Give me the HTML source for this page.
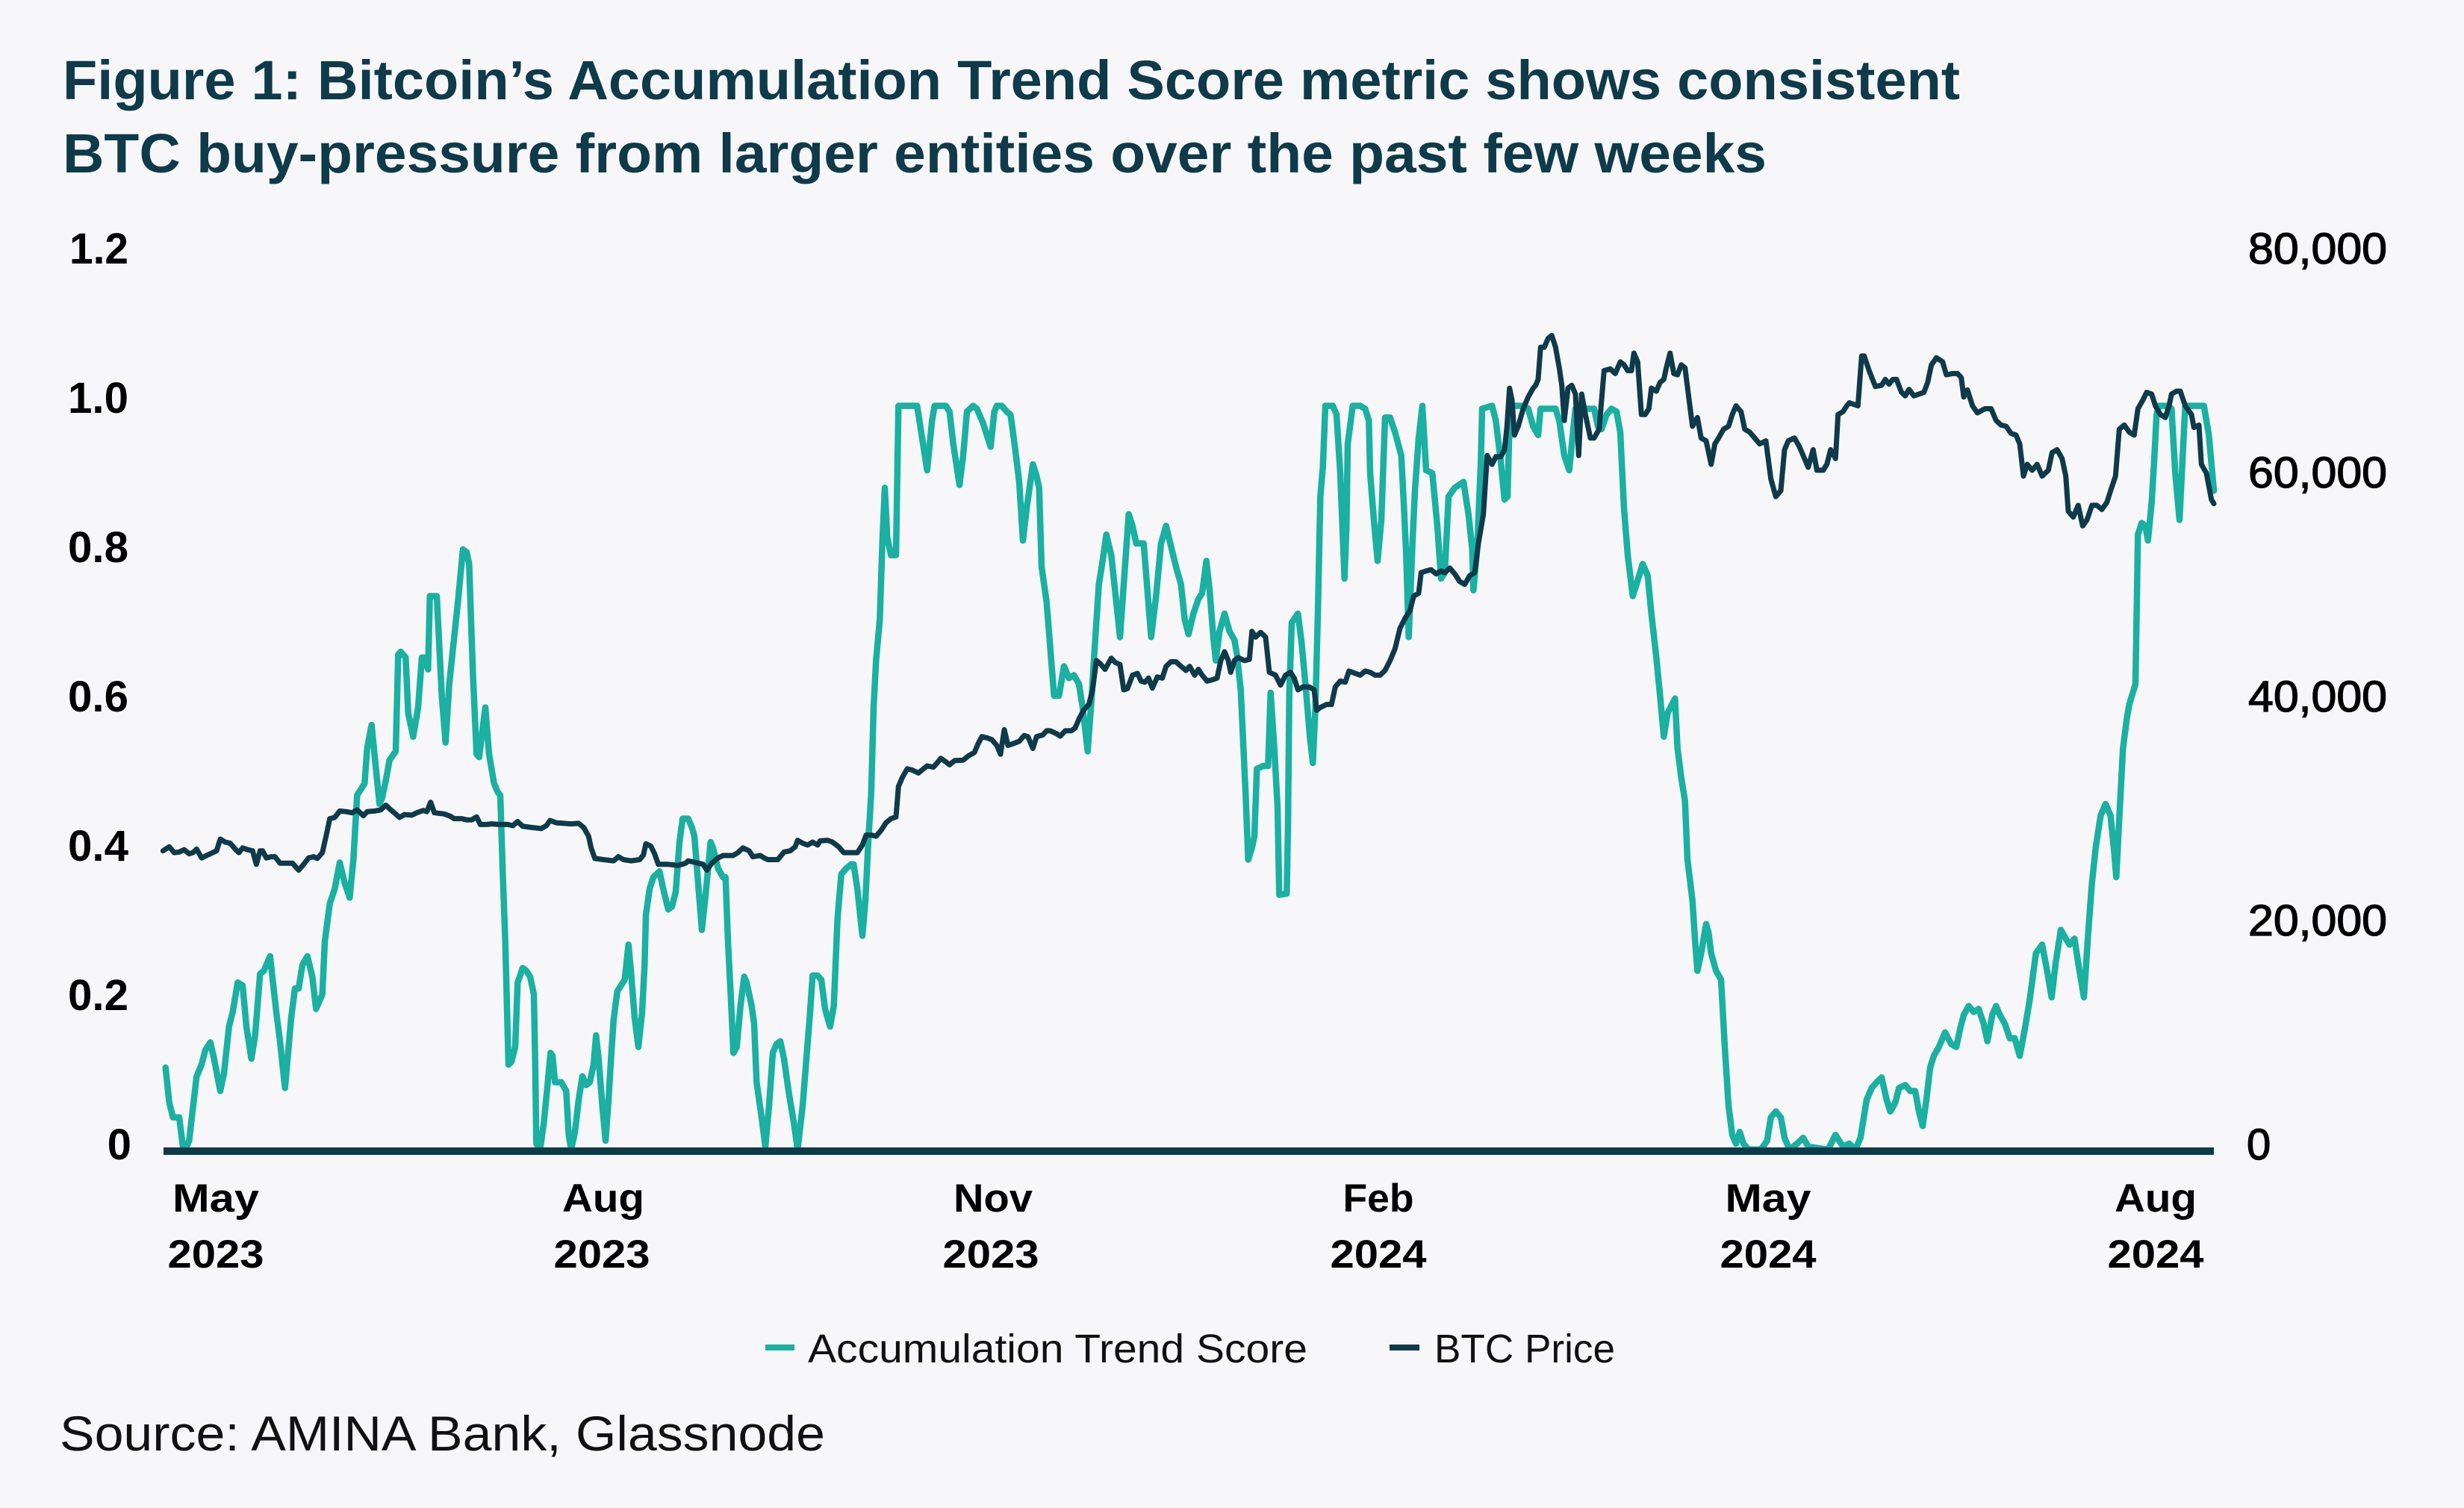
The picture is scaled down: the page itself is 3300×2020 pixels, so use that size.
<!DOCTYPE html>
<html><head><meta charset="utf-8"><style>
html,body{margin:0;padding:0;background:#f7f7f9;}
svg{display:block;}
</style></head><body>
<svg xmlns="http://www.w3.org/2000/svg" width="3300" height="2020" viewBox="0 0 3300 2020">
<rect x="0" y="0" width="3300" height="2020" fill="#f7f7f9"/>
<g font-family="'Liberation Sans', Arial, sans-serif">
<text x="84" y="133" font-size="74" font-weight="bold" fill="#0e3a4a" textLength="2541" lengthAdjust="spacingAndGlyphs">Figure 1: Bitcoin’s Accumulation Trend Score metric shows consistent</text>
<text x="84" y="231" font-size="74" font-weight="bold" fill="#0e3a4a" textLength="2282" lengthAdjust="spacingAndGlyphs">BTC buy-pressure from larger entities over the past few weeks</text>

<g font-size="58" font-weight="bold" fill="#000" text-anchor="end">
<text x="172" y="353" textLength="79" lengthAdjust="spacingAndGlyphs">1.2</text>
<text x="172" y="553" textLength="81" lengthAdjust="spacingAndGlyphs">1.0</text>
<text x="172" y="753" textLength="81" lengthAdjust="spacingAndGlyphs">0.8</text>
<text x="172" y="953" textLength="81" lengthAdjust="spacingAndGlyphs">0.6</text>
<text x="172" y="1153" textLength="81" lengthAdjust="spacingAndGlyphs">0.4</text>
<text x="172" y="1353" textLength="81" lengthAdjust="spacingAndGlyphs">0.2</text>
<text x="176" y="1553">0</text>
</g>
<g font-size="58" fill="#000" stroke="#000" stroke-width="1.3">
<text x="3011" y="353" textLength="186" lengthAdjust="spacingAndGlyphs">80,000</text>
<text x="3011" y="653" textLength="186" lengthAdjust="spacingAndGlyphs">60,000</text>
<text x="3011" y="953" textLength="186" lengthAdjust="spacingAndGlyphs">40,000</text>
<text x="3011" y="1253" textLength="186" lengthAdjust="spacingAndGlyphs">20,000</text>
<text x="3009" y="1553">0</text>
</g>
<g font-size="53" font-weight="bold" fill="#000" text-anchor="middle">
<text x="289" y="1623" textLength="116" lengthAdjust="spacingAndGlyphs">May</text>
<text x="808" y="1623" textLength="110" lengthAdjust="spacingAndGlyphs">Aug</text>
<text x="1330" y="1623" textLength="106" lengthAdjust="spacingAndGlyphs">Nov</text>
<text x="1846" y="1623" textLength="95" lengthAdjust="spacingAndGlyphs">Feb</text>
<text x="2368" y="1623" textLength="115" lengthAdjust="spacingAndGlyphs">May</text>
<text x="2887" y="1623" textLength="110" lengthAdjust="spacingAndGlyphs">Aug</text>
<text x="289" y="1698" textLength="129" lengthAdjust="spacingAndGlyphs">2023</text>
<text x="806" y="1698" textLength="129" lengthAdjust="spacingAndGlyphs">2023</text>
<text x="1327" y="1698" textLength="129" lengthAdjust="spacingAndGlyphs">2023</text>
<text x="1846" y="1698" textLength="129" lengthAdjust="spacingAndGlyphs">2024</text>
<text x="2368" y="1698" textLength="129" lengthAdjust="spacingAndGlyphs">2024</text>
<text x="2887" y="1698" textLength="129" lengthAdjust="spacingAndGlyphs">2024</text>
</g>

<rect x="1025" y="1801" width="39" height="8" fill="#1ab0a2"/>
<text x="1082" y="1825" font-size="54" fill="#111" textLength="669" lengthAdjust="spacingAndGlyphs">Accumulation Trend Score</text>
<rect x="1861" y="1801" width="40" height="8" fill="#0e3a4a"/>
<text x="1921" y="1825" font-size="54" fill="#111" textLength="242" lengthAdjust="spacingAndGlyphs">BTC Price</text>

<text x="80" y="1943" font-size="66" fill="#111" textLength="1025" lengthAdjust="spacingAndGlyphs">Source: AMINA Bank, Glassnode</text>
</g>

<!-- Accumulation Trend Score -->
<polyline fill="none" stroke="#1ab0a2" stroke-width="8.5" stroke-linejoin="round" stroke-linecap="round" points="
221.7,1430 226.7,1477 231.7,1496.7 240,1496.7 245,1535.9 248.3,1539.8 253.3,1528 263.3,1441.8 270,1426.1 275,1406.5 281.7,1396.3 286.7,1418.2 295,1461.4 300,1437.8 306.7,1375.1 311.7,1355.5 318.3,1316.2 325,1320.2 330,1375.1 336.7,1418.2 341.7,1386.8 348.3,1304.5 353.3,1300.5 361.7,1280.9 370,1355.5 375,1394.7 381.7,1457.4 390,1363.3 395,1324.1 400,1324.1 405,1292.7 411.7,1280.9 418.3,1308.4 423.3,1351.5 431.7,1331.9 435,1261.3 441.7,1210.3 448.3,1190.7 455,1155.4 461.7,1182.9 468.3,1202.5 473.3,1151.5 478.3,1065.2 488.3,1049.5 491.7,1002.5 497.7,971.1 502.3,1018.2 508.3,1077 511.7,1069.1 516.7,1045.6 521.7,1018.2 530,1006.4 533.3,877 536.7,873 543.3,880.9 546.7,955.4 553.3,986.8 560,947.6 565,880.9 568.3,880.9 573.3,896.6 575.7,798.5 585,798.5 591.7,931.9 596.7,994.6 601.7,916.2 608.3,853.4 613.3,806.4 620,735.8 625,739.7 628.3,755.4 633.3,900.5 638.3,1010.3 641.7,1014.2 650,947.6 655,1010.3 661.7,1049.5 666.7,1061.3 670,1065.2 673.3,1167.2
676.7,1261.3 681,1426.1 685,1422.1 690,1402.5 693.3,1316.2 700,1296.6 705,1300.5 710,1308.4 715,1331.9 716.7,1418.2 718.3,1532 723.3,1539.8 728.3,1504.5 733.3,1453.5 737.3,1410.4 740,1414.3 743.3,1449.6 746.7,1449.6 751.7,1449.6 758.3,1461.4 761.7,1520.2 765,1539.8 770,1516.3 775,1473.1 780,1441.8 785,1453.5 790,1449.6 795,1426.1 798.3,1386.8 801.7,1418.2 806.7,1481 811,1528 815,1473.1 818.3,1418.2 821.7,1367.2 826.7,1328 831.7,1320.2 836.7,1312.3 841.7,1265.3 845,1300.5 850,1363.3 855,1402.5 860,1355.5 863.3,1292.7 865,1226 870,1190.7 875,1175 883.3,1167.2 888.3,1190.7 895,1218.2 900,1214.3 905,1194.6 910,1128 914.3,1096.6 921.7,1096.6 926.7,1108.4 930,1120.1 935,1182.9 940,1245.6 945,1198.6 951.7,1128 955,1135.8 961.7,1163.3 968.3,1175 971.7,1175 975,1261.3 979,1339.8 982.3,1410.4 986.7,1402.5 991.7,1347.6 996.7,1308.4 1000,1316.2 1006.7,1347.6 1010,1371.2 1013.3,1449.6 1020,1496.7 1025,1535.9 1030,1481 1035,1410.4 1040,1398.6 1045,1394.7 1050,1418.2 1056.7,1465.3 1063.3,1504.5 1068.3,1539.8 1075,1481 1080,1418.2 1085,1355.5 1088.3,1306.8 1095,1306.8 1100,1312.3 1105,1351.5 1111.7,1375.1 1116.7,1347.6 1121.7,1230 1126.7,1171.1 1133.3,1163.3 1140,1157.8
1143.3,1157.8 1148.3,1190.7 1155,1253.5 1159,1206.4 1163.3,1120.1 1166.7,1065.2 1170,947.6 1173.3,884.8 1178.3,829.9 1181.7,727.9 1185,653.4 1188.3,720.1 1193.3,743.6 1200,743.6 1203.3,543.6 1228.3,543.6 1235,586.7 1241.7,629.9 1248.3,563.2 1251.7,543.6 1266.7,543.6 1271.7,551.4 1276.7,594.6 1285,649.5 1290,610.2 1295,551.4 1303.3,543.6 1308.3,547.5 1316.7,567.1 1326.7,598.5 1331.7,551.4 1335,543.6 1341.7,543.6 1348.3,551.4 1353.3,555.3 1356.7,578.9 1361.7,618.1 1365,645.5 1370,724 1375,680.8 1383.3,622 1388.3,637.7 1391.7,653.4 1395,759.3 1401.7,806.4 1406.7,869.1 1411.7,931.9 1418.3,931.9 1425,892.6 1431.7,908.3 1438.3,904.4 1445,916.2 1450,947.6 1456.7,1006.4 1461.7,939.7 1465,884.8 1471.7,782.8 1476.7,751.4 1481.7,716.1 1488.3,743.6 1495,806.4 1500,853.4 1505,782.8 1511.7,688.7 1516.7,704.4 1521.7,727.9 1531.7,727.9 1536.7,790.7 1541.7,853.4 1548.3,798.5 1555,727.9 1561.7,704.4 1568.3,731.8 1575,759.3 1581.7,782.8 1586.7,829.9 1591.7,849.5
1598.3,822 1605,802.4 1610,794.6 1615.7,751.4 1620,790.7 1625,853.4 1628.3,884.8 1633.3,845.6 1640,822 1646.7,845.6 1653.3,857.3 1656.7,877 1661.7,924 1665,994.6 1668.3,1065.2 1671.7,1151.5 1676.7,1135.8 1680,1120.1 1683.3,1029.9 1691.7,1026 1698.3,1026 1701.7,927.9 1706.7,1002.5 1711,1080.9 1713.3,1198.6 1723.3,1197 1725,1104.4 1726.7,931.9 1730,833.8 1738.3,822 1743.3,861.3 1748.3,916.2 1754.3,986.8 1758.3,1022.1 1761.7,947.6 1765,822 1768.3,665.2 1771.7,625.9 1775,543.6 1785,543.6 1790,555.3 1795,633.8 1800.7,775 1803.3,704.4 1805,594.6 1811.7,543.6 1821.7,543.6 1828.3,547.5 1833.3,563.2 1835,633.8 1840,696.5 1845,751.4 1850,696.5 1855,559.3 1861.7,559.3 1868.3,578.9 1876.7,610.2 1880,673 1883.3,743.6 1886.7,853.4 1891.7,727.9 1895,657.3 1900,586.7 1905,543.6 1910,629.9 1918.3,633.8 1925,704.4 1930,775 1935,767.1 1940,665.2 1948.3,653.4 1960,645.5 1966.7,688.7 1971.7,735.8 1973.3,790.7 1978.3,735.8 1983.3,618.1 1985,547.5 1998.3,543.6 2003.3,563.2 2010,618.1 2015,669.1 2019,665.2 2022.3,543.6 2041.7,543.6 2046.7,547.5 2053.3,571 2060,582.8
2063.3,547.5 2083.3,547.5 2088.3,563.2 2095,610.2 2101.7,629.9 2106.7,578.9 2110,547.5 2135,547.5 2140,571 2145,574.9 2151.7,555.3 2158.3,547.5 2165,551.4 2170,578.9 2175,680.8 2180,743.6 2186.7,798.5 2191.7,782.8 2200,755.4 2206.7,771.1 2211.7,822 2218.3,880.9 2223.3,931.9 2228.3,986.8 2233.3,955.4 2243.3,935.8 2246.7,1002.5 2251.7,1041.7 2256.7,1073.1 2260,1151.5 2266.7,1206.4 2270,1257.4 2273.3,1300.5 2278.3,1277 2285,1237.8 2288.3,1249.6 2291.7,1277 2298.3,1300.5 2305,1312.3 2310,1402.5 2315,1481 2320,1520.2 2325,1532 2330,1516.3 2335,1532 2341.7,1539.8 2358.3,1539.8 2366.7,1528 2371.7,1496.7 2378.3,1488.8 2385,1496.7 2390,1524.1 2396.7,1539.8 2406.7,1532 2415,1524.1 2421.7,1535.9 2448.3,1539.8 2458.3,1520.2 2468.3,1535.9 2476.7,1532 2485,1539.8 2491.7,1524.1 2500,1473.1 2506.7,1457.4 2513.3,1449.6 2520,1443.3
2526.7,1473.1 2531.7,1488.8 2538.3,1477 2543.3,1457.4 2551.7,1453.5 2558.3,1461.4 2565,1461.4 2570,1488.8 2575,1508.4 2580,1473.1 2585,1430 2590,1414.3 2596.7,1402.5 2605,1382.9 2613.3,1398.6 2620,1402.5 2625,1379 2630,1359.4 2636.7,1347.6 2643.3,1355.5 2650,1351.5 2656.7,1371.2 2661.7,1394.7 2668.3,1359.4 2673.3,1347.6 2678.3,1359.4 2685,1371.2 2691.7,1390.8 2698.3,1390.8 2705,1414.3 2711.7,1379 2718.3,1339.8 2726.7,1277 2735,1265.3 2741.7,1300.5 2747.7,1335.9 2753.3,1288.8 2760,1245.6 2766.7,1257.4 2771.7,1265.3 2778.3,1257.4 2785,1300.5 2791,1335.9 2796.7,1249.6 2801.7,1182.9 2806.7,1135.8 2813.3,1092.7 2820,1077 2826.7,1092.7 2831.7,1143.7 2834.3,1175 2838.3,1096.6 2843.3,1002.5 2848.3,963.2 2851.7,943.6 2860,916.2 2861.7,814.2 2863.3,716.1 2868.3,700.5 2873.3,704.4 2876.7,724 2881.7,673 2885,618.1 2888.3,555.3 2891.7,543.6 2903.3,543.6 2908.3,547.5 2913.3,633.8 2919,696.5 2923.3,610.2 2926.7,543.6 2951.7,543.6 2958.3,582.8 2965,657.3"/>

<!-- BTC Price -->
<polyline fill="none" stroke="#0e3a4a" stroke-width="7" stroke-linejoin="round" stroke-linecap="round" points="
218.3,1139.7 226.7,1134.3 233.3,1142.1 240,1141.3 246.7,1138.2 253.3,1143.7 258.3,1142.1 263.3,1137.4 270,1149.2 276.7,1146 285,1142.1 290,1139.7 295,1124 301.7,1128 308.3,1129.5 315,1137.4 320,1142.1 325,1135.8 331.7,1138.2 338.3,1139.7 343.3,1157.8 348.3,1139.7 351.7,1139.7 356.7,1149.2 363.3,1147.6 368.3,1147.6 375,1156.2 381.7,1156.2 391.7,1156.2 400,1165.6 406.7,1157.8 413.3,1149.2 420,1147.6 425,1149.9 431.7,1142.1 436.7,1120.1 441.7,1096.6 448.3,1095 455,1086.4 463.3,1087.2 471.7,1088.7 478.3,1084.8 486.7,1092.7 491.7,1087.2 501.7,1086.4 510,1084.8 516.7,1078.5 523.3,1084.8 530,1090.3 535,1095 541.7,1091.1 551.7,1091.9 558.3,1088.7 566.7,1085.6 571.7,1087.2 576.7,1074.6 581.7,1088.7 595,1090.3 603.3,1093.5 608.3,1096.6 618.3,1096.6 625,1098.2 631.7,1098.2 638.3,1094.3 643.3,1104.4 651.7,1104.4 658.3,1103.6 668.3,1104.4 680,1104.4
686.7,1106 693.3,1100.5 700,1106.8 711.7,1108.4 725,1109.9 731.7,1106 736.7,1099 745,1102.1 755,1102.9 765,1103.6 775,1102.9 781.7,1108.4 788.3,1120.1 791.7,1135.8 796.7,1149.9 808.3,1151.5 821.7,1153.1 828.3,1147.6 835,1151.5 845,1153.1 856.7,1151.5 861.7,1145.2 865,1130.3 871.7,1133.5 876.7,1143.7 881.7,1157.8 895,1157.8 908.3,1159.3 918.3,1156.2 921.7,1153.1 931.7,1155.4 941.7,1157.8 946.7,1165.6 953.3,1156.2 961.7,1149.2 968.3,1146 981.7,1146 988.3,1142.1 995,1135.8 1003.3,1139.7 1008.3,1147.6 1018.3,1146 1023.3,1149.2 1028.3,1151.5 1041.7,1151.5 1050,1141.3 1058.3,1139.7 1065,1134.3 1068.3,1125.6 1075,1129.5 1081.7,1131.9 1088.3,1128 1095,1131.9 1098.3,1126.4 1108.3,1125.6 1115,1128 1123.3,1134.3 1130,1142.1 1140,1142.1
1148.3,1142.1 1155,1131.9 1160,1118.6 1166.7,1118.6 1173.3,1120.1 1180,1112.3 1186.7,1102.1 1193.3,1096.6 1200,1094.3 1203.3,1053.5 1208.3,1041.7 1215,1029.9 1221.7,1031.5 1230,1035.4 1236.7,1029.9 1241.7,1026 1250,1027.6 1255,1022.1 1260,1015.8 1266.7,1020.5 1271.7,1024.4 1278.3,1018.9 1290,1018.2 1296.7,1012.7 1305,1008 1310,996.2 1315,986.8 1321.7,988.3 1328.3,990.7 1335,998.5 1340,1010.3 1345,977.4 1350,998.5 1356.7,996.2 1365,993 1371.7,985.2 1376.7,986.8 1383.3,1002.5 1388.3,986.8 1396.7,984.4 1401.7,978.9 1406.7,978.9 1415,982.8 1420,986 1426.7,978.9 1435,978.9 1440,975 1445,963.2 1451.7,950.7 1458.3,943.6 1463.3,924 1468.3,884.8 1473.3,888.7 1480,896.6 1488.3,881.7 1493.3,887.1 1500,890.3 1505,924 1510,922.4 1516.7,904.4 1523.3,902 1528.3,912.3 1533.3,913.8 1538.3,908.3 1543.3,921.7 1550,906.8 1556.7,908.3 1561.7,892.6 1568.3,886.4 1575,886.4 1581.7,892.6 1588.3,898.1 1593.3,892.6 1600,904.4
1605,896.6 1610,904.4 1616.7,912.3 1623.3,910.7 1630,908.3 1635,884.8 1640,873 1645,884.8 1648.3,900.5 1653.3,884.8 1658.3,880.9 1666.7,884.8 1673.3,883.2 1676.7,845.6 1681.7,853.4 1688.3,847.1 1695,853.4 1700,900.5 1708.3,904.4 1715,917.7 1721.7,904.4 1728.3,900.5 1733.3,908.3 1738.3,924 1745,920.1 1753.3,920.1 1760,924 1763.3,951.5 1768.3,947.6 1776.7,943.6 1783.3,943.6 1788.3,920.1 1795,912.3 1801.7,913.8 1806.7,898.9 1815,902 1821.7,904.4 1828.3,898.9 1835,900.5 1841.7,904.4 1848.3,904.4 1855,898.1 1861.7,884.8 1868.3,869.1 1875,841.7 1881.7,828.3 1888.3,818.1 1893.3,798.5 1900,794.6 1903.3,767.1 1910,764.8 1916.7,763.2 1923.3,768.7 1930,764.8 1935,767.1 1941.7,760.9 1948.3,768.7 1955,778.9 1961.7,782.8 1968.3,771.1 1975,767.1 1980,727.9 1986.7,688.7 1991.7,610.2 1998.3,622 2003.3,611.8 2010,611.8 2015,602.4 2018.3,571 2021.7,520 2025,535.7 2028.3,582.8 2033.3,571 2040,547.5 2046.7,531.8 2053.3,520 2056.7,516.1
2060,508.3 2063.3,465.1 2068.3,465.1 2073.3,453.4 2078.3,449.4 2083.3,465.1 2088.3,492.6 2091.7,516.1 2095,563.2 2100,520 2105,516.1 2110,527.9 2114.3,610.2 2118.3,527.9 2123.3,555.3 2130,586.7 2135,586.7 2141.7,574.9 2148.3,496.5 2156.7,494.1 2163.3,500.4 2170,484.7 2175,488.7 2180,496.5 2185,496.5 2188.3,473 2193.3,484.7 2198.3,555.3 2203.3,555.3 2208.3,547.5 2211.7,520 2218.3,524 2223.3,512.2 2228.3,508.3 2231.7,492.6 2236.7,473 2241.7,500.4 2246.7,502 2251.7,488.7 2256.7,492.6 2261.7,531.8 2266.7,571 2273.3,559.3 2278.3,586.7 2285,590.6 2291.7,622 2296.7,594.6 2301.7,586.7 2308.3,574.9 2315,571 2320,555.3 2325,543.6 2331.7,551.4 2336.7,574.9 2343.3,578.9 2350,586.7 2356.7,594.6 2365,590.6 2371.7,641.6 2378.3,665.2 2385,657.3 2390,602.4 2395,590.6 2403.3,586.7 2410,598.5 2416.7,614.2 2421.7,625.9 2428.3,602.4 2433.3,629.9 2441.7,629.9 2446.7,622 2451.7,602.4 2458.3,614.2 2461.7,555.3 2468.3,551.4 2473.3,543.6 2476.7,539.6 2488.3,543.6 2493.3,476.9 2496.7,476.9 2503.3,496.5 2511.7,517.7 2520,516.1
2525,508.3 2530,514.5 2535,508.3 2540,508.3 2546.7,525.5 2551.7,530.2 2556.7,521.6 2563.3,530.2 2570,527.9 2576.7,525.5 2581.7,512.2 2586.7,488.7 2593.3,479.2 2601.7,484.7 2606.7,502 2615,500.4 2621.7,500.4 2626.7,505.9 2630,531.8 2635,522.4 2641.7,543.6 2648.3,553 2658.3,547.5 2666.7,547.5 2673.3,563.2 2680,569.4 2686.7,571 2693.3,580.4 2700,582.8 2705,594.6 2710,637.7 2715,622 2721.7,629.9 2728.3,622 2735,637.7 2743.3,629.9 2748.3,606.3 2755,602.4 2761.7,614.2 2766.7,637.7 2770,684.8 2776.7,692.6 2783.3,676.9 2789.3,704.4 2795,696.5 2801.7,676.9 2808.3,676.9 2815,682.4 2821.7,673 2826.7,657.3 2833.3,637.7 2838.3,574.9 2845,569.4 2851.7,578.9 2858.3,582.8 2863.3,547.5 2870,535.7 2875,525.5 2881.7,527.9 2886.7,543.6 2893.3,555.3 2900,559.3 2905,543.6 2908.3,527.9 2915,524 2920,524 2926.7,543.6 2935,555.3 2938.3,572.6 2945,569.4 2948.3,622 2955,633.8 2961.7,669.1 2965,674.6"/>

<!-- x axis line -->
<rect x="219" y="1537" width="2746" height="10" fill="#0e3a4a"/>
</svg>
</body></html>
